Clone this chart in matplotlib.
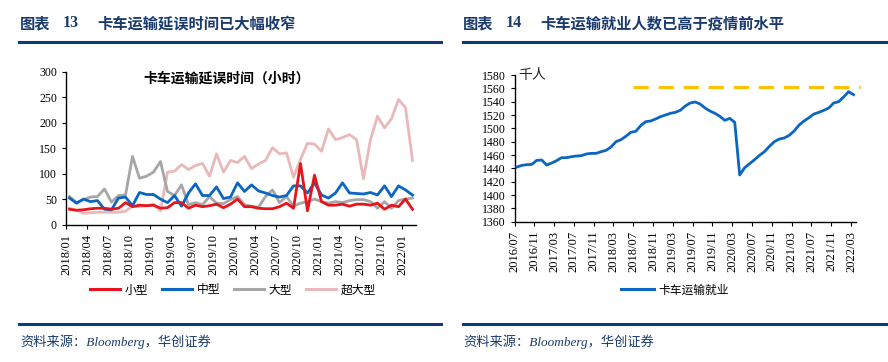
import matplotlib
matplotlib.use("Agg")
import matplotlib.pyplot as plt
from matplotlib.lines import Line2D
import pandas as pd

plt.rcParams['font.family'] = ['Noto Sans CJK SC', 'DejaVu Sans']

# ---------------- data: left chart (truck delay hours) ----------------
left_months = [p.strftime('%Y/%m') for p in pd.period_range('2018-01', '2022-02', freq='M')]
small = [30, 28, 29, 31, 32, 32, 30, 32, 43, 35, 38, 37, 38, 32, 33, 43, 43, 32, 38, 35,
         37, 40, 33, 40, 50, 35, 35, 32, 31, 31, 35, 42, 32, 120, 27, 97, 45, 38, 38, 40,
         36, 40, 40, 38, 42, 30, 38, 35, 50, 30]
medium = [52, 42, 50, 45, 47, 30, 29, 52, 54, 37, 63, 59, 59, 50, 43, 57, 36, 62, 80, 57,
          57, 74, 51, 54, 82, 65, 78, 66, 62, 57, 54, 57, 76, 76, 62, 82, 58, 52, 62, 82,
          62, 61, 60, 63, 58, 76, 55, 76, 68, 58]
large = [55, 43, 49, 54, 55, 70, 44, 57, 58, 134, 91, 95, 103, 124, 65, 57, 78, 39, 43, 39,
         55, 42, 41, 49, 55, 39, 36, 34, 55, 68, 43, 55, 36, 42, 45, 50, 45, 42, 45, 43,
         47, 49, 49, 45, 32, 45, 32, 47, 50, 52]
xlarge = [32, 28, 22, 23, 24, 24, 24, 24, 26, 36, 35, 37, 40, 27, 103, 105, 118, 108, 116, 120,
          95, 139, 103, 126, 122, 134, 110, 119, 126, 151, 139, 141, 93, 128, 160, 158, 144, 188, 167, 171,
          177, 167, 90, 167, 213, 190, 208, 246, 230, 126]
left_series = ['小型', '中型', '大型', '超大型']
left_yticks = [0, 50, 100, 150, 200, 250, 300]

# ---------------- data: right chart (trucking employment, thousands) ----------------
right_months = [p.strftime('%Y/%m') for p in pd.period_range('2016-07', '2022-03', freq='M')]
employment = [1442, 1444.5, 1445.5, 1446, 1452, 1452.5, 1445, 1448, 1451.5, 1456,
              1456, 1457.5, 1458.5, 1459, 1461.5, 1462.5, 1462.5, 1465, 1467, 1472,
              1480, 1483, 1488, 1494, 1495.5, 1504, 1510, 1511, 1514, 1517.5,
              1520, 1522.5, 1524, 1527, 1533.5, 1538, 1539.5, 1536.5, 1530.5, 1526,
              1522.5, 1518, 1512, 1515, 1509, 1430, 1441, 1447, 1453, 1459.5,
              1465, 1473, 1480, 1484, 1485.5, 1489.5, 1496, 1505, 1511, 1516,
              1521.5, 1524, 1527, 1530.5, 1538, 1540, 1547, 1555, 1550.5]
ref_level = 1562
ref_start = '2018/07'
right_yticks = list(range(1360, 1581, 20))

# ---------------- style ----------------
RED = '#E8141C'
BLUE = '#0A66C2'
GRAY = '#A6A6A6'
PINK = '#E8B9B8'
GOLD = '#FFC000'
NAVY = '#1A3A6E'
LINE_NAVY = '#0D3A7A'
SERIF = ['Liberation Serif', 'DejaVu Serif']
SERIF_CJK = ['Liberation Serif', 'Noto Sans CJK SC']

fig = plt.figure(figsize=(8.88, 3.62), dpi=100)
W, H = 888, 362

def fx(px):
    return px / W

def fy(py):
    return 1 - py / H

# titles
for x0, num, txt, x1 in [(20, '13', '卡车运输延误时间已大幅收窄', 97),
                         (463, '14', '卡车运输就业人数已高于疫情前水平', 540)]:
    fig.text(fx(x0), fy(23), '图表', fontsize=11, fontweight='bold', color=NAVY, va='center')
    fig.text(fx(x0 + 43), fy(23), num, fontsize=11.5, fontweight='bold', color=NAVY,
             va='center', family=SERIF)
    fig.text(fx(x1), fy(23), txt, fontsize=11, fontweight='bold', color=NAVY, va='center')

fig.add_artist(Line2D([fx(19), fx(441)], [fy(42), fy(42)], color=LINE_NAVY, lw=2.2))
fig.add_artist(Line2D([fx(463), fx(888)], [fy(42), fy(42)], color=LINE_NAVY, lw=2.2))
fig.add_artist(Line2D([fx(19), fx(441)], [fy(324), fy(324)], color=LINE_NAVY, lw=2.2))
fig.add_artist(Line2D([fx(463), fx(888)], [fy(324), fy(324)], color=LINE_NAVY, lw=2.2))

for x0 in (20, 463):
    fig.text(fx(x0), fy(342), '资料来源：Bloomberg，华创证券', fontsize=9.5, color=NAVY,
             va='center', style='italic', family=SERIF_CJK)

def style_axes(ax):
    for s in ('top', 'right'):
        ax.spines[s].set_visible(False)
    for s in ('left', 'bottom'):
        ax.spines[s].set_color('#000000')
        ax.spines[s].set_linewidth(1.0)
    ax.tick_params(axis='both', direction='out', length=3, width=0.8, colors='#000000',
                   labelsize=8.5)
    ax.tick_params(axis='x', labelsize=9)
    for lab in ax.get_yticklabels() + ax.get_xticklabels():
        lab.set_family(SERIF)

# ---------------- left axes ----------------
axL = fig.add_axes([fx(66), fy(224.5), fx(416) - fx(66), fy(72) - fy(224.5)])
xs = [i + 0.5 for i in range(len(left_months))]
lw = 2.0
axL.plot(xs, xlarge, color=PINK, lw=lw, label=left_series[3], zorder=2)
axL.plot(xs, large, color=GRAY, lw=lw, label=left_series[2], zorder=3)
axL.plot(xs, medium, color=BLUE, lw=lw, label=left_series[1], zorder=4)
axL.plot(xs, small, color=RED, lw=lw, label=left_series[0], zorder=5)
axL.set_xlim(0, len(left_months))
axL.set_ylim(0, 300)
axL.set_yticks(left_yticks)
axL.set_xticks(range(0, len(left_months), 3))
axL.set_xticklabels(left_months[::3], rotation=90)
style_axes(axL)
axL.text(0.46, 0.96, '卡车运输延误时间（小时）', transform=axL.transAxes, ha='center',
         va='center', fontsize=10, fontweight='bold', color='#000000')

hL = [Line2D([], [], color=c, lw=2.2) for c in (RED, BLUE, GRAY, PINK)]
fig.legend(hL, left_series, loc='center', bbox_to_anchor=(fx(233), fy(290)), ncol=4,
           frameon=False, fontsize=8.5, handlelength=2.5, columnspacing=1.2, handletextpad=0.4)

# ---------------- right axes ----------------
axR = fig.add_axes([fx(514.5), fy(221.7), fx(856) - fx(514.5), fy(75) - fy(221.7)])
xr = [m + 0.5 for m in range(len(right_months))]
axR.plot(xr, employment, color=BLUE, lw=2.0, zorder=4)
x_ref0 = right_months.index(ref_start)
axR.plot([x_ref0, len(right_months) + 0.9], [ref_level, ref_level], color=GOLD, lw=2.2,
         dashes=(5, 3.2), clip_on=False, zorder=3)
axR.set_xlim(0, len(right_months))
axR.set_ylim(1360, 1580)
axR.set_yticks(right_yticks)
axR.set_xticks(range(0, len(right_months), 4))
axR.set_xticklabels(right_months[::4], rotation=90)
style_axes(axR)
axR.text(0.012, 1.0, '千人', transform=axR.transAxes, ha='left', va='center', fontsize=10,
         color='#222222')

hR = [Line2D([], [], color=BLUE, lw=2.2)]
fig.legend(hR, ['卡车运输就业'], loc='center', bbox_to_anchor=(fx(675), fy(290)),
           frameon=False, fontsize=8.5, handlelength=2.8, handletextpad=0.4)

fig.savefig('out.png', dpi=100)
